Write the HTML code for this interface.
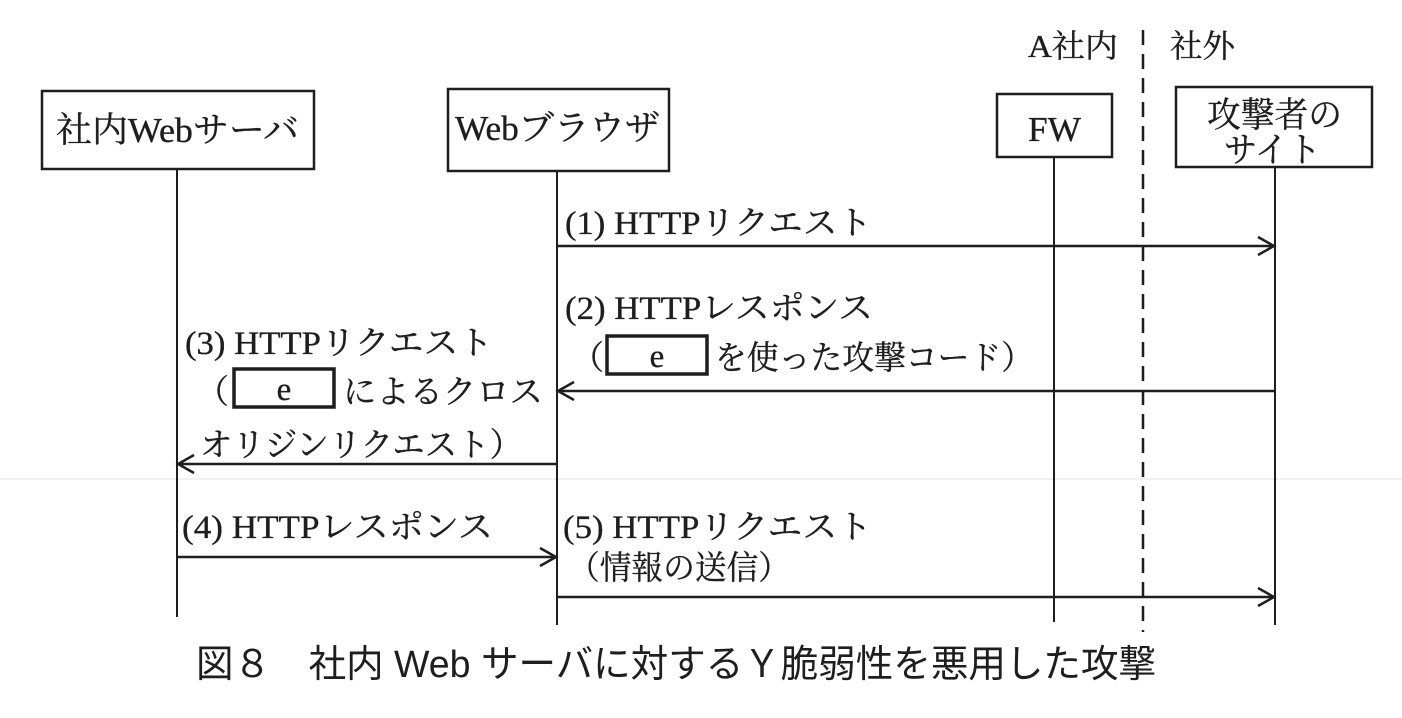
<!DOCTYPE html>
<html>
<head>
<meta charset="utf-8">
<style>
  html,body{margin:0;padding:0;background:#fff;}
  svg{display:block;}
  .s{font-family:"Liberation Serif","Noto Serif CJK SC",serif;fill:#1e1e1e;stroke:#1e1e1e;stroke-width:0.35;}
  .g{font-family:"Liberation Sans","Noto Sans CJK JP",sans-serif;fill:#1e1e1e;}
</style>
</head>
<body>
<svg width="1402" height="718" viewBox="0 0 1402 718" xmlns="http://www.w3.org/2000/svg">
  <rect x="0" y="0" width="1402" height="718" fill="#fff"/>
  <line x1="0" y1="479" x2="1402" y2="479" stroke="#f2f2f2" stroke-width="2"/>

  <!-- boundary labels -->
  <text class="s" x="1028" y="57" font-size="32" textLength="90" lengthAdjust="spacingAndGlyphs">A社内</text>
  <text class="s" x="1170" y="57" font-size="32" textLength="65" lengthAdjust="spacingAndGlyphs">社外</text>

  <!-- dashed boundary -->
  <line x1="1143" y1="30" x2="1143" y2="632" stroke="#1e1e1e" stroke-width="2.5" stroke-dasharray="15,9"/>

  <!-- boxes -->
  <g fill="none" stroke="#1e1e1e" stroke-width="2.5">
    <rect x="42" y="91" width="272" height="78"/>
    <rect x="448" y="89" width="221" height="82"/>
    <rect x="997" y="94" width="115" height="63"/>
    <rect x="1176" y="87" width="196" height="80"/>
  </g>
  <text class="s" x="56" y="142" font-size="35" textLength="243" lengthAdjust="spacingAndGlyphs">社内Webサーバ</text>
  <text class="s" x="455" y="140" font-size="35" textLength="205" lengthAdjust="spacingAndGlyphs">Webブラウザ</text>
  <text class="s" x="1028" y="141" font-size="35" textLength="53" lengthAdjust="spacingAndGlyphs">FW</text>
  <text class="s" x="1207" y="127" font-size="35" textLength="135" lengthAdjust="spacingAndGlyphs">攻撃者の</text>
  <text class="s" x="1224" y="162" font-size="35" textLength="97" lengthAdjust="spacingAndGlyphs">サイト</text>

  <!-- lifelines -->
  <g stroke="#1e1e1e" stroke-width="2">
    <line x1="177" y1="169" x2="177" y2="617"/>
    <line x1="557" y1="171" x2="557" y2="625"/>
    <line x1="1054" y1="157" x2="1054" y2="622"/>
    <line x1="1275" y1="167" x2="1275" y2="625"/>
  </g>

  <!-- arrows -->
  <g fill="none" stroke="#1e1e1e" stroke-width="2.5">
    <line x1="557" y1="246" x2="1274" y2="246"/>
    <polyline points="1258,237 1274,246 1258,255"/>
    <line x1="1275" y1="391" x2="558" y2="391"/>
    <polyline points="574,382 558,391 574,400"/>
    <line x1="557" y1="464" x2="178" y2="464"/>
    <polyline points="194,455 178,464 194,473"/>
    <line x1="177" y1="557" x2="556" y2="557"/>
    <polyline points="540,548 556,557 540,566"/>
    <line x1="557" y1="597" x2="1274" y2="597"/>
    <polyline points="1258,588 1274,597 1258,606"/>
  </g>

  <!-- (1) label -->
  <text class="s" x="565" y="234" font-size="33" textLength="307" lengthAdjust="spacingAndGlyphs">(1) HTTPリクエスト</text>

  <!-- (2) label -->
  <text class="s" x="565" y="319" font-size="33" textLength="308" lengthAdjust="spacingAndGlyphs">(2) HTTPレスポンス</text>
  <text class="s" x="571" y="369" font-size="33">（</text>
  <rect x="607" y="336" width="100" height="38" fill="#fff" stroke="#1e1e1e" stroke-width="3.5"/>
  <text class="s" x="657" y="367" font-size="33" text-anchor="middle">e</text>
  <text class="s" x="715" y="369" font-size="33" textLength="318" lengthAdjust="spacingAndGlyphs">を使った攻撃コード）</text>

  <!-- (3) label -->
  <text class="s" x="185" y="354" font-size="33" textLength="308" lengthAdjust="spacingAndGlyphs">(3) HTTPリクエスト</text>
  <text class="s" x="196" y="403" font-size="33">（</text>
  <rect x="234" y="369" width="100" height="38" fill="#fff" stroke="#1e1e1e" stroke-width="3.5"/>
  <text class="s" x="284" y="400" font-size="33" text-anchor="middle">e</text>
  <text class="s" x="343" y="403" font-size="33" textLength="200" lengthAdjust="spacingAndGlyphs">によるクロス</text>
  <text class="s" x="200" y="456" font-size="33" textLength="322" lengthAdjust="spacingAndGlyphs">オリジンリクエスト）</text>

  <!-- (4) label -->
  <text class="s" x="182" y="538" font-size="33" textLength="311" lengthAdjust="spacingAndGlyphs">(4) HTTPレスポンス</text>

  <!-- (5) label -->
  <text class="s" x="563" y="538" font-size="33" textLength="309" lengthAdjust="spacingAndGlyphs">(5) HTTPリクエスト</text>
  <text class="s" x="568" y="579" font-size="33" textLength="222" lengthAdjust="spacingAndGlyphs">（情報の送信）</text>

  <!-- caption -->
  <text class="g" x="196" y="677" font-size="38" textLength="960" lengthAdjust="spacingAndGlyphs">図８　社内 Web サーバに対するＹ脆弱性を悪用した攻撃</text>
</svg>
</body>
</html>
